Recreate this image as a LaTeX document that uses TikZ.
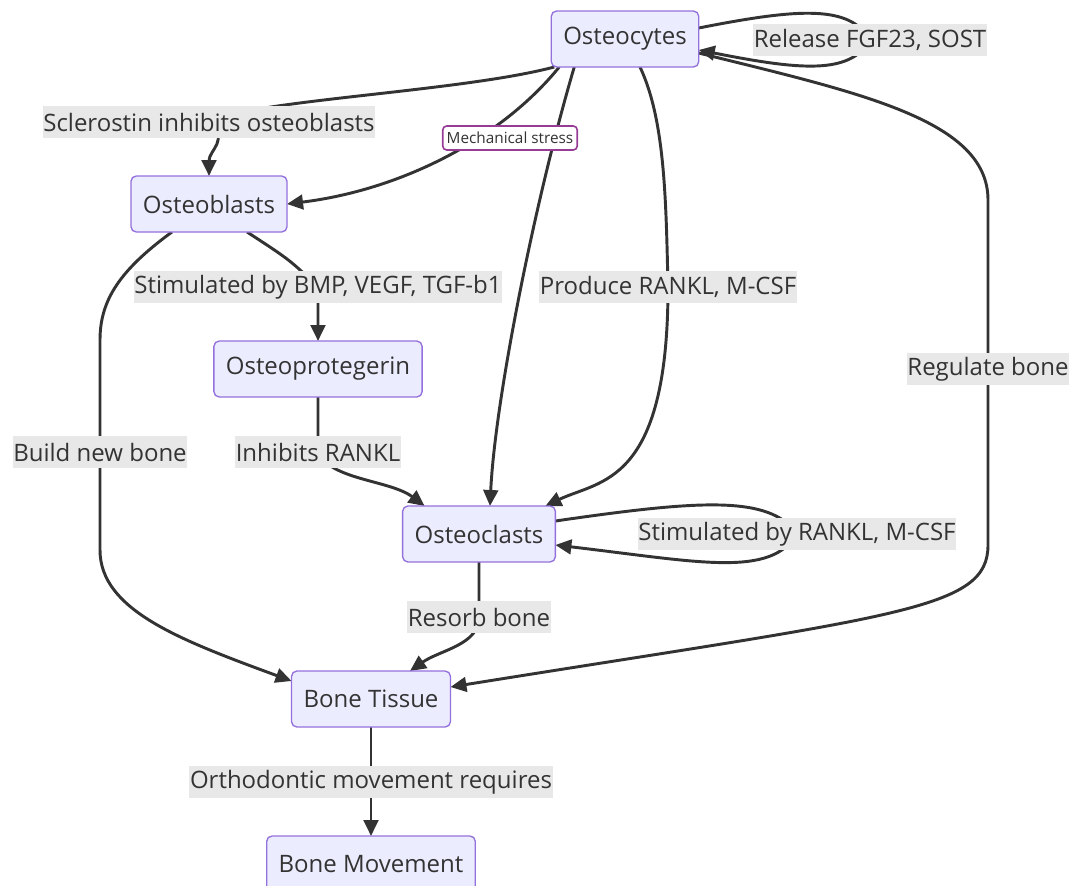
\documentclass[tikz,border=0pt]{standalone}
\usepackage{fontspec}
\setmainfont{Open Sans}
\usetikzlibrary{arrows.meta,calc}
\pgfdeclarelayer{bg}
\pgfsetlayers{bg,main}
\definecolor{nodefill}{RGB}{236,236,255}
\definecolor{nodeline}{RGB}{147,112,219}
\definecolor{labelfill}{RGB}{232,232,232}
\definecolor{inkgray}{RGB}{51,51,51}
\definecolor{stresspurple}{RGB}{150,60,150}
\def \globalscale {1.000000}

\begin{document}
\begin{tikzpicture}[y=0.75pt, x=0.75pt, yscale=-\globalscale, xscale=\globalscale, inner sep=0pt, outer sep=0pt,
  cell/.style={draw=nodeline, fill=nodefill, line width=1pt, rounded corners=4pt, text=inkgray, inner xsep=9pt, minimum height=42pt, font=\fontsize{18}{21}\selectfont},
  elabel/.style={fill=labelfill, text=inkgray, inner xsep=0.5pt, minimum height=24pt, font=\fontsize{18}{21}\selectfont},
  stressbox/.style={draw=stresspurple, fill=white, line width=1.2pt, rounded corners=3pt, text=inkgray, inner xsep=3pt, minimum height=18pt, font=\fontsize{11.5}{13}\selectfont},
  flow/.style={draw=inkgray, line width=2.2pt, line join=round, -{Triangle[length=12pt,width=11pt]}}]
\useasboundingbox (0,0) rectangle (1077,885);

\node[cell] (ocy) at (625,39) {Osteocytes};

\node[cell] (obl) at (209,204) {Osteoblasts};

\node[cell] (opg) at (318,369) {Osteoprotegerin};

\node[cell] (ocl) at (479,534) {Osteoclasts};

\node[cell] (bt) at (371,699) {Bone Tissue};

\node[cell] (bm) at (371,864) {Bone Movement};



\node[elabel] (lrel) at (870,40) {Release FGF23, SOST};

\node[elabel] (lscl) at (209,122) {Sclerostin inhibits osteoblasts};

\node[stressbox] (lmech) at (510,138) {Mechanical stress};

\node[elabel] (lbmp) at (318,287) {Stimulated by BMP, VEGF, TGF-b1};

\node[elabel] (lprod) at (668,287) {Produce RANKL, M-CSF};

\node[elabel] (lreg) at (988,369) {Regulate bone};

\node[elabel] (lbuild) at (100,452) {Build new bone};

\node[elabel] (linh) at (318,452) {Inhibits RANKL};

\node[elabel] (lstim) at (797,534) {Stimulated by RANKL, M-CSF};

\node[elabel] (lres) at (479,617) {Resorb bone};

\node[elabel] (lorth) at (371,782) {Orthodontic movement requires};



\begin{pgfonlayer}{bg}
\path[flow] ($(ocy.east)+(0,-11)$) .. controls (800,8) and (850,5) .. (lrel.center) .. controls (850,75) and (800,70) .. ($(ocy.east)+(0,11)$);



\path[flow] ($(ocy.south west)+(3,0)$) .. controls (460,92) and (250,100) .. (lscl.center) .. controls (230,140) and (209,150) .. (obl.north);



\path[flow] ($(ocy.south west)+(8,0)$) .. controls (500,140) and (400,190) .. (obl.east);



\path[flow] ($(ocy.south west)+(23,0)$) .. controls (535,200) and (495,400) .. ($(ocl.north)+(11,0)$);



\path[flow] ($(ocy.south)+(15,0)$) .. controls (665,120) and (666,200) .. (lprod.center) .. controls (668,485) and (600,480) .. ($(ocl.north east)+(-10,0)$);



\path[flow] ($(ocy.east)+(0,14)$) .. controls (860,93) and (988,120) .. (988,200) -- (lreg.center) -- (988,545) .. controls (988,610) and (900,615) .. ($(bt.east)+(0,-12)$);



\path[flow] ($(obl.south west)+(41,0)$) .. controls (120,270) and (100,300) .. (100,340) -- (lbuild.center) -- (100,550) .. controls (100,610) and (180,640) .. ($(bt.west)+(0,-18)$);



\path[flow] ($(obl.south east)+(-40,0)$) .. controls (290,260) .. (lbmp.center) -- (opg.north);



\path[flow] (opg.south) -- (linh.center) .. controls (330,480) and (390,480) .. ($(ocl.north west)+(22,0)$);



\path[flow] ($(ocl.east)+(0,-13)$) .. controls (700,500) and (770,495) .. (lstim.center) .. controls (770,578) and (700,562) .. ($(ocl.east)+(0,11)$);



\path[flow] (ocl.south) -- (lres.center) .. controls (479,645) and (440,650) .. ($(bt.north)+(39,0)$);



\path[flow] (bt.south) -- (lorth.center) -- (bm.north);
\end{pgfonlayer}

\end{tikzpicture}
\end{document}
